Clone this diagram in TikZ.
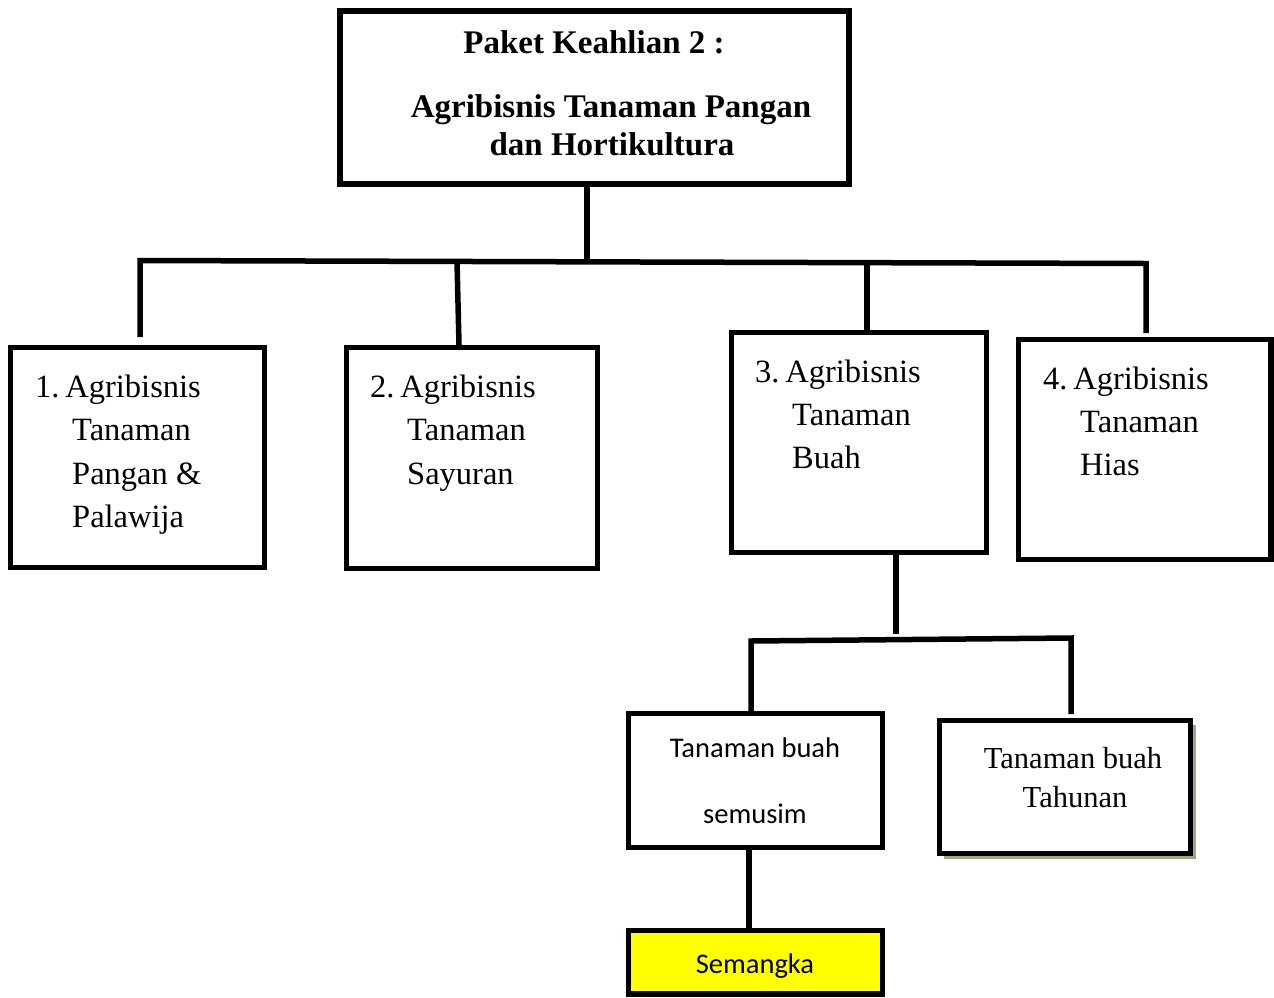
\documentclass[tikz,border=0pt]{standalone}
\usepackage{fontspec}
\setmainfont{Liberation Serif}
\newfontfamily\calib{Carlito}
\definecolor{shadowc}{HTML}{9EA688}
\definecolor{semyellow}{HTML}{FFFF00}
\begin{document}
\begin{tikzpicture}[x=1pt,y=-1pt,
  box/.style={draw, line width=5.5pt, rectangle, inner sep=0pt, fill=white},
  conn/.style={line width=5.5pt, line join=miter},
  txt/.style={anchor=base west, inner sep=0pt, font=\fontsize{32.5}{38}\selectfont},
  ttl/.style={anchor=base, inner sep=0pt, font=\fontsize{33}{38}\selectfont\bfseries},
  cal/.style={anchor=base, inner sep=0pt, font=\fontsize{28.5}{34}\selectfont\calib},
  ser/.style={anchor=base, inner sep=0pt, font=\fontsize{30.5}{36}\selectfont}]
\useasboundingbox (0,0) rectangle (1274,997);

% boxes
\node[box, minimum width=509pt, minimum height=173pt] (top) at (594.5,97.5) {};
\node[box, minimum width=254pt, minimum height=220pt] (b1) at (137.5,457.5) {};
\node[box, minimum width=251pt, minimum height=221pt] (b2) at (472,458) {};
\node[box, minimum width=255pt, minimum height=220pt] (b3) at (859,442.5) {};
\node[box, minimum width=252.5pt, minimum height=220pt] (b4) at (1144.75,449.5) {};
\node[box, minimum width=254pt, minimum height=134pt] (s1) at (755.5,780.5) {};
\fill[shadowc] (943.5,724.5) rectangle (1195.5,858.5);
\node[box, minimum width=251pt, minimum height=133pt] (s2) at (1065,787) {};
\node[box, fill=semyellow, minimum width=254pt, minimum height=63.5pt] (sem) at (755.5,962.25) {};

% connector coordinates
\coordinate (tjoin) at (587,261.5);
\coordinate (busL) at (140,260.5);
\coordinate (busR) at (1146,263.5);
\coordinate (j2) at (457,261);
\coordinate (j3) at (867,262.5);
\coordinate (e1) at (140,337);
\coordinate (e2) at (459,345);
\coordinate (e4) at (1146,333);
\coordinate (b3down) at (896,634);
\coordinate (bus2L) at (751,641);
\coordinate (bus2R) at (1071,638);
\coordinate (e5) at (751,712);
\coordinate (e6) at (1071,714);

% connectors
\draw[conn] (top.south -| tjoin) -- (tjoin);
\draw[conn] (e1) -- (busL) -- (busR) -- (e4);
\draw[conn] (j2) -- (e2);
\draw[conn] (j3) -- (b3.north -| j3);
\draw[conn] (b3.south -| b3down) -- (b3down);
\draw[conn] (e5) -- (bus2L) -- (bus2R) -- (e6);
\draw[conn] (s1.south -| 749,0) -- (sem.north -| 749,0);

% texts
\node[ttl] (tt1) at (594,53) {Paket Keahlian 2 :};
\node[ttl] (tt2) at (611,117) {Agribisnis Tanaman Pangan};
\node[ttl] (tt3) at (612,155) {dan Hortikultura};

\node[txt] (t1a) at (35,397) {1.\hspace{0.18em}Agribisnis};
\node[txt] (t1b) at (72,440) {Tanaman};
\node[txt] (t1c) at (72,484) {Pangan \&};
\node[txt] (t1d) at (72,527) {Palawija};

\node[txt] (t2a) at (370,397) {2.\hspace{0.18em}Agribisnis};
\node[txt] (t2b) at (407,440) {Tanaman};
\node[txt] (t2c) at (407,484) {Sayuran};

\node[txt] (t3a) at (755,382) {3.\hspace{0.18em}Agribisnis};
\node[txt] (t3b) at (792,425) {Tanaman};
\node[txt] (t3c) at (792,468) {Buah};

\node[txt] (t4a) at (1043,389) {4.\hspace{0.18em}Agribisnis};
\node[txt] (t4b) at (1080,432) {Tanaman};
\node[txt] (t4c) at (1080,475) {Hias};

\node[cal] (s1a) at (755,757) {Tanaman buah};
\node[cal] (s1b) at (755,823) {semusim};
\node[ser] (s2a) at (1073,768) {Tanaman buah};
\node[ser] (s2b) at (1075,807) {Tahunan};
\node[cal] (sema) at (755,973) {Semangka};
\end{tikzpicture}
\end{document}
